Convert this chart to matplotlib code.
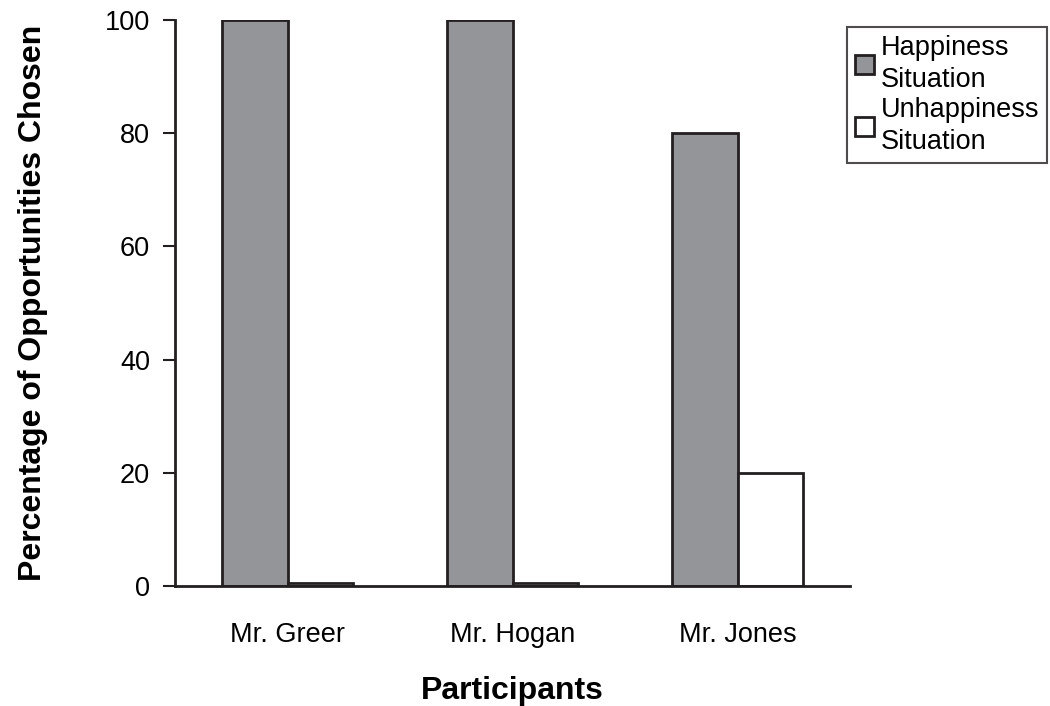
import numpy as np
import matplotlib
matplotlib.use("Agg")
from matplotlib import pyplot as plt

plt.rcParams['font.family'] = ['Liberation Sans', 'DejaVu Sans']

# data
participants = ['Mr. Greer', 'Mr. Hogan', 'Mr. Jones']
happiness = [100, 100, 80]
unhappiness = [0.5, 0.5, 20]
yticks = [0, 20, 40, 60, 80, 100]

fig = plt.figure(figsize=(10.5, 7.06), dpi=100)
ax = fig.add_axes([175/1050, (706-586)/706, 675/1050, 566/706])

x = np.arange(len(participants))
w = 0.29
edge = '#231f20'
ax.bar(x - w/2, happiness, w, color='#939598', edgecolor=edge, linewidth=2,
       label='Happiness\nSituation')
ax.bar(x + w/2, unhappiness, w, color='white', edgecolor=edge, linewidth=2,
       label='Unhappiness\nSituation')

ax.set_xlim(-0.5, 2.5)
ax.set_ylim(0, 100)
ax.set_yticks(yticks)
ax.set_xticks(x)
ax.set_xticklabels(participants, fontsize=19.5)
ax.tick_params(axis='y', labelsize=19.5, length=9, width=1.5, color=edge, pad=9)
ax.tick_params(axis='x', length=0, pad=26)
for s in ['top', 'right']:
    ax.spines[s].set_visible(False)
for s in ['left', 'bottom']:
    ax.spines[s].set_linewidth(2)
    ax.spines[s].set_color(edge)

ax.set_ylabel('Percentage of Opportunities Chosen', fontsize=23,
              fontweight='bold', labelpad=41)
ax.set_xlabel('Participants', fontsize=23, fontweight='bold', labelpad=20)

leg = fig.legend(loc='upper left', bbox_to_anchor=(847/1050, 1 - 27/706),
                 fontsize=19.5, frameon=True, fancybox=False, edgecolor=edge,
                 handlelength=0.7, handleheight=0.7, handletextpad=0.25,
                 borderpad=0.3, labelspacing=0.15, borderaxespad=0)
for t in leg.get_texts():
    t.set_linespacing(1.3)
leg.get_frame().set_linewidth(1.5)

fig.savefig('out.png', dpi=100)
